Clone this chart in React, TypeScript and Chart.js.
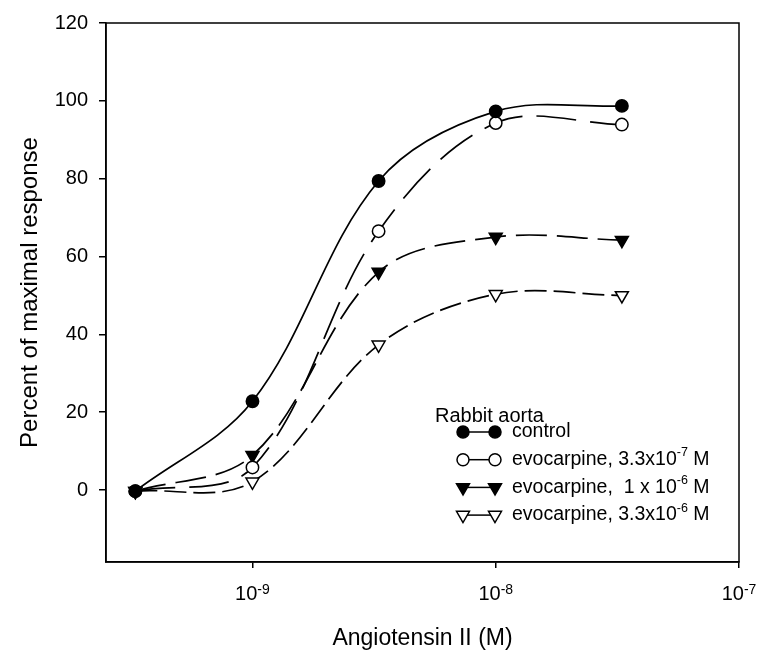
import React, { useEffect, useRef } from 'react';
import { Chart, registerables } from 'chart.js';

Chart.register(...registerables);

// ---- data ----
const concentrations = [3.3e-10, 1e-9, 3.3e-9, 1e-8, 3.3e-8];
const controlValues = [-0.3, 22.8, 79.4, 97.3, 98.7];
const evo033Values = [-0.3, 5.8, 66.5, 94.3, 93.9];
const evo1Values = [-0.3, 8.9, 56.0, 65.0, 64.2];
const evo33Values = [-0.3, 2.1, 37.3, 50.3, 50.0];

const yTickValues = [0, 20, 40, 60, 80, 100, 120];
const xTickExponents = [-9, -8, -7];

const legendTitle = 'Rabbit aorta';
const seriesLabels = [
  ['control', '', ''],
  ['evocarpine, 3.3x10', '-7', ' M'],
  ['evocarpine,  1 x 10', '-6', ' M'],
  ['evocarpine, 3.3x10', '-6', ' M'],
];
const xTitle = 'Angiotensin II (M)';
const yTitle = 'Percent of maximal response';

const FONT = '"Liberation Sans", Arial, Helvetica, sans-serif';

type Marker = { style: 'circle' | 'triangle'; filled: boolean; dash: number[] };
const markers: Marker[] = [
  { style: 'circle', filled: true, dash: [] },
  { style: 'circle', filled: false, dash: [40, 14] },
  { style: 'triangle', filled: true, dash: [31, 10] },
  { style: 'triangle', filled: false, dash: [22, 7] },
];
const seriesValues = [controlValues, evo033Values, evo1Values, evo33Values];

function drawMarker(ctx: CanvasRenderingContext2D, m: Marker, x: number, y: number) {
  ctx.save();
  ctx.setLineDash([]);
  ctx.lineWidth = 1.5;
  ctx.strokeStyle = '#000';
  ctx.fillStyle = m.filled ? '#000' : '#fff';
  ctx.beginPath();
  if (m.style === 'circle') {
    ctx.arc(x, y, 6, 0, Math.PI * 2);
  } else {
    const r = 7.5;
    ctx.moveTo(x, y + r);
    ctx.lineTo(x - r * 0.866, y - r / 2);
    ctx.lineTo(x + r * 0.866, y - r / 2);
    ctx.closePath();
  }
  ctx.fill();
  ctx.stroke();
  ctx.restore();
}

const decorPlugin = {
  id: 'decor',
  afterDraw(chart: any) {
    const { ctx, chartArea: a, scales } = chart;
    ctx.save();
    // frame
    ctx.strokeStyle = '#000';
    ctx.lineWidth = 1.5;
    ctx.setLineDash([]);
    ctx.strokeRect(a.left, a.top, a.right - a.left, a.bottom - a.top);

    ctx.fillStyle = '#000';
    ctx.textBaseline = 'alphabetic';
    ctx.textAlign = 'left';

    // x tick labels with superscripts
    for (const e of xTickExponents) {
      const x = scales.x.getPixelForValue(Math.pow(10, e));
      ctx.font = `20px ${FONT}`;
      const bw = ctx.measureText('10').width;
      ctx.font = `14px ${FONT}`;
      const sup = String(e);
      const sw = ctx.measureText(sup).width;
      const sx = x - (bw + sw) / 2;
      ctx.font = `20px ${FONT}`;
      ctx.fillText('10', sx, a.bottom + 38);
      ctx.font = `14px ${FONT}`;
      ctx.fillText(sup, sx + bw, a.bottom + 32);
    }

    // x title
    ctx.font = `23px ${FONT}`;
    ctx.textAlign = 'center';
    ctx.fillText(xTitle, (a.left + a.right) / 2, a.bottom + 83);

    // y title
    ctx.save();
    ctx.translate(37, (a.top + a.bottom) / 2);
    ctx.rotate(-Math.PI / 2);
    ctx.font = `24px ${FONT}`;
    ctx.textAlign = 'center';
    ctx.fillText(yTitle, 0, 0);
    ctx.restore();

    // legend
    ctx.textAlign = 'left';
    ctx.textBaseline = 'middle';
    ctx.font = `20px ${FONT}`;
    ctx.fillText(legendTitle, a.left + 329, a.top + 393);
    const rowY0 = a.top + 409;
    const rowStep = 27.7;
    const symL = a.left + 357;
    const symR = a.left + 389;
    const textX = a.left + 406;
    seriesLabels.forEach((parts, i) => {
      const y = rowY0 + i * rowStep;
      ctx.beginPath();
      ctx.setLineDash([]);
      ctx.lineWidth = 1.5;
      ctx.moveTo(symL, y);
      ctx.lineTo(symR, y);
      ctx.stroke();
      drawMarker(ctx, markers[i], symL, y);
      drawMarker(ctx, markers[i], symR, y);
      ctx.fillStyle = '#000';
      ctx.textBaseline = 'middle';
      ctx.font = `19.5px ${FONT}`;
      ctx.fillText(parts[0], textX, y);
      let cx = textX + ctx.measureText(parts[0]).width;
      if (parts[1]) {
        ctx.font = `12.5px ${FONT}`;
        ctx.fillText(parts[1], cx, y - 7);
        cx += ctx.measureText(parts[1]).width;
        ctx.font = `19.5px ${FONT}`;
        ctx.fillText(parts[2], cx, y);
      }
    });
    ctx.restore();
  },
};

export default function App() {
  const ref = useRef<HTMLCanvasElement | null>(null);
  useEffect(() => {
    if (!ref.current) return;
    const datasets = seriesValues.map((vals, i) => {
      const m = markers[i];
      return {
        label: seriesLabels[i].join(''),
        data: vals.map((v, j) => ({ x: concentrations[j], y: v })),
        borderColor: '#000',
        borderWidth: 1.7,
        borderDash: m.dash,
        tension: 0.35,
        fill: false,
        pointStyle: m.style,
        rotation: m.style === 'triangle' ? 180 : 0,
        pointRadius: m.style === 'triangle' ? 7.5 : 6.2,
        pointBorderWidth: 1.5,
        pointBackgroundColor: m.filled ? '#000' : '#fff',
        pointBorderColor: '#000',
      };
    });
    const chart = new Chart(ref.current, {
      type: 'line',
      data: { datasets } as any,
      options: {
        animation: false,
        responsive: false,
        events: [],
        layout: { padding: { top: 16, right: 18, left: 0, bottom: 0 } },
        plugins: { legend: { display: false }, tooltip: { enabled: false } },
        scales: {
          x: {
            type: 'logarithmic',
            min: 2.5e-10,
            max: 1e-7,
            afterBuildTicks: (s: any) => {
              s.ticks = xTickExponents.map((e) => ({ value: Math.pow(10, e) }));
            },
            afterFit: (s: any) => {
              s.height = 90;
            },
            ticks: { autoSkip: false, callback: () => '', maxRotation: 0 },
            grid: { drawOnChartArea: false, drawTicks: true, tickLength: 6, color: '#000', lineWidth: 1.5 },
            border: { display: true, color: '#000', width: 1.5 },
          },
          y: {
            type: 'linear',
            min: -18.5,
            max: 120,
            afterBuildTicks: (s: any) => {
              s.ticks = yTickValues.map((v) => ({ value: v }));
            },
            afterFit: (s: any) => {
              s.width = 106;
            },
            ticks: {
              autoSkip: false,
              color: '#000',
              padding: 11,
              font: { family: FONT, size: 20 },
            },
            grid: { drawOnChartArea: false, drawTicks: true, tickLength: 7, color: '#000', lineWidth: 1.5 },
            border: { display: true, color: '#000', width: 1.5 },
          },
        },
      },
      plugins: [decorPlugin],
    } as any);
    return () => chart.destroy();
  }, []);
  return (
    <div style={{ position: 'fixed', left: 0, top: 0, width: 757, height: 652, background: '#fff' }}>
      <canvas ref={ref} width={757} height={652} style={{ width: 757, height: 652, display: 'block' }} />
    </div>
  );
}
